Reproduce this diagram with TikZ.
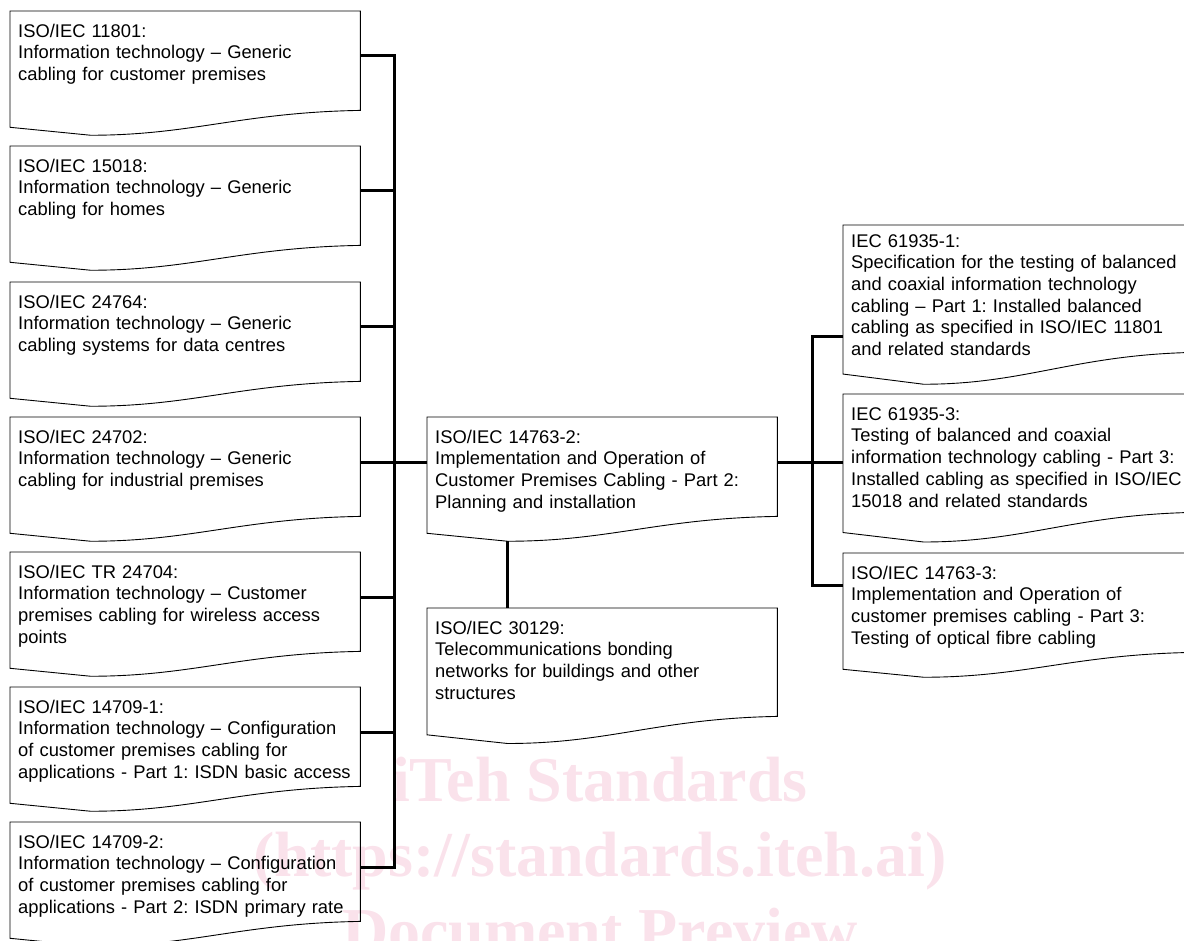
\documentclass[tikz,border=0pt]{standalone}
\usepackage{fontspec}
\usepackage{xcolor}
\setmainfont{Liberation Sans}
\newfontfamily\wmfont{Liberation Serif}
\usetikzlibrary{calc}

\definecolor{wmark}{RGB}{250,226,235}
\newcommand{\boxfont}{\fontsize{18.35pt}{21.7pt}\selectfont\frenchspacing}
\newcommand{\doclines}[1]{\begin{tabular}[t]{@{}l@{}}#1\end{tabular}}

% outline of a document shape round a named node
\newcommand{\docoutline}[1]{%
  \draw[docline] let \p1=(#1.north west), \p2=(#1.south east),
    \n1={\y1-\y2}, \n2={\x2-\x1} in
    (\p1) -- (\x2,\y1) -- (\p2)
    .. controls (\x2-0.34*\n2,\y2-0.02*\n1) and (\x1+0.52*\n2,\y2-0.25*\n1) ..
    (\x1+0.23*\n2,\y2-0.25*\n1) -- (\x1,\y2-0.17*\n1) -- cycle;}

\begin{document}
\begin{tikzpicture}[x=1pt, y=-1pt,
			box/.style={anchor=north west, text width=334pt, inner xsep=8pt, inner ysep=8pt, text height=18pt, font=\boxfont},
			doc/.style={box, text depth=#1},
			doc/.default=65pt,
			docline/.style={draw=black, line width=0.9pt, line join=miter},
			wire/.style={draw=black, line width=3pt, line join=miter},
			wm/.style={anchor=base, inner sep=0pt, text=wmark, font=\wmfont\bfseries\fontsize{64pt}{64pt}\selectfont}
		]
		\useasboundingbox (0,0) rectangle (1184,941);

		% Watermark
		\node[wm] (wm1) at (600,801) {iTeh Standards};
		\node[wm] (wm2) at (600,876) {(https://standards.iteh.ai)};
		\node[wm] (wm3) at (600,952) {Document Preview};

		% Left column
		\node[doc] (b1) at (10,11) {\doclines{ISO/IEC 11801:\\Information technology – Generic\\cabling for customer premises}};
		\node[doc] (b2) at (10,146) {\doclines{ISO/IEC 15018:\\Information technology – Generic\\cabling for homes}};
		\node[doc] (b3) at (10,282) {\doclines{ISO/IEC 24764:\\Information technology – Generic\\cabling systems for data centres}};
		\node[doc] (b4) at (10,417) {\doclines{ISO/IEC 24702:\\Information technology – Generic\\cabling for industrial premises}};
		\node[doc] (b5) at (10,552) {\doclines{ISO/IEC TR 24704:\\Information technology – Customer\\premises cabling for wireless access\\points}};
		\node[doc] (b6) at (10,687) {\doclines{ISO/IEC 14709-1:\\Information technology – Configuration\\of customer premises cabling for\\applications - Part 1: ISDN basic access}};
		\node[doc] (b7) at (10,822) {\doclines{ISO/IEC 14709-2:\\Information technology – Configuration\\of customer premises cabling for\\applications - Part 2: ISDN primary rate}};

		% Middle column
		\node[doc] (mid) at (427,417) {\doclines{ISO/IEC 14763-2:\\Implementation and Operation of\\Customer Premises Cabling - Part 2:\\Planning and installation}};
		\node[doc=74pt] (low) at (427,608) {\doclines{ISO/IEC 30129:\\Telecommunications bonding\\networks for buildings and other\\structures}};

		% Right column
		\node[doc=97pt, text height=14pt] (r1) at (843,225) {\doclines{IEC 61935-1:\\Specification for the testing of balanced\\and coaxial information technology\\cabling – Part 1: Installed balanced\\cabling as specified in ISO/IEC 11801\\and related standards}};
		\node[doc=84pt] (r2) at (843,394) {\doclines{IEC 61935-3:\\Testing of balanced and coaxial\\information technology cabling - Part 3:\\Installed cabling as specified in ISO/IEC\\15018 and related standards}};
		\node[doc] (r3) at (843,553) {\doclines{ISO/IEC 14763-3:\\Implementation and Operation of\\customer premises cabling - Part 3:\\Testing of optical fibre cabling}};

		% Outlines
		\foreach \d in {b1,b2,b3,b4,b5,b6,b7,mid,low,r1,r2,r3}
			\docoutline{\d};

		% Buses
		\coordinate (lbus) at (394,0);
		\coordinate (rbus) at (812,0);
		\foreach \d in {b1,b2,b3,b4,b5,b6,b7}
			\coordinate (\d-p) at ([yshift=-45pt]\d.north east);
		\coordinate (mid-w) at ([yshift=-45pt]mid.north west);
		\coordinate (mid-e) at ([yshift=-45pt]mid.north east);
		\coordinate (r1-p) at ([yshift=-112pt]r1.north west);
		\coordinate (r3-p) at ([yshift=-32pt]r3.north west);

		% Arrows
		\draw[wire] (b1-p) -| (lbus |- b7-p) -- (b7-p);
		\foreach \d in {b2,b3,b4,b5,b6}
			\draw[wire] (\d-p) -- (\d-p -| lbus);
		\draw[wire] (lbus |- mid-w) -- (mid-w);
		\draw[wire] (mid-e) -- (mid-e -| r2.west);
		\draw[wire] (r1-p) -| (rbus |- r3-p) -- (r3-p);
		\draw[wire] ([xshift=80.5pt,yshift=-24.75pt]mid.south west) -- ([xshift=80.5pt]low.north west);

	\end{tikzpicture}
\end{document}
